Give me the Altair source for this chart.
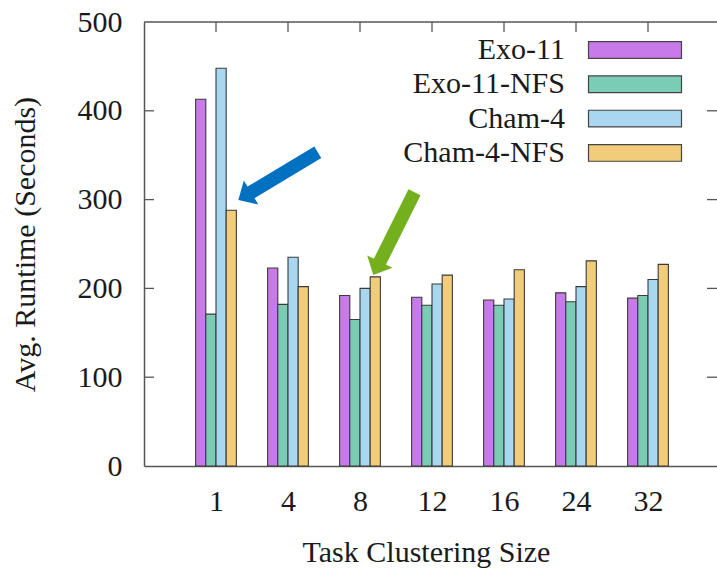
import altair as alt
import pandas as pd

# ---- data ----
sizes = ["1", "4", "8", "12", "16", "24", "32"]
series = ["Exo-11", "Exo-11-NFS", "Cham-4", "Cham-4-NFS"]
colors = ["#c77ae8", "#7bccb4", "#a9d7ef", "#f0cc7b"]
exo11 = [413, 223, 192, 190, 187, 195, 189]
exo11_nfs = [171, 182, 165, 181, 181, 185, 192]
cham4 = [448, 235, 200, 205, 188, 202, 210]
cham4_nfs = [288, 202, 213, 215, 221, 231, 227]
y_ticks = [100, 200, 300, 400]

# arrow annotations (data coordinates: x = category index, y = seconds)
arrow_tail_x = [1.414, 2.757]
arrow_tail_y = [353.4, 308.3]
arrow_neck_x = [0.453, 2.258]
arrow_neck_y = [306.5, 227.1]
arrow_tip_x = [0.310, 2.185]
arrow_tip_y = [299.5, 215.1]
arrow_angle = [239, 206]
arrow_color = ["#0070c0", "#74b01e"]

# ---- layout constants ----
W, H = 573, 444
X_DOMAIN = [-1, -1 + W / 72]
BAR_W = 0.1415
FONT = "Liberation Serif"
FS = 30
AX = "#555555"

vals = [exo11, exo11_nfs, cham4, cham4_nfs]
rows = []
for k, (name, v) in enumerate(zip(series, vals)):
    for i, val in enumerate(v):
        x0 = i + (k - 2) * BAR_W
        rows.append({"series": name, "idx": i, "x0": x0, "x1": x0 + BAR_W, "value": val})
df = pd.DataFrame(rows)

xscale = alt.Scale(domain=X_DOMAIN, nice=False, zero=False)
yscale = alt.Scale(domain=[0, 500], nice=False)

label_expr = "[" + ",".join("'%s'" % s for s in sizes) + "][datum.value]"

bars = alt.Chart(df).mark_bar(stroke="#3a3a3a", strokeWidth=1.1, opacity=1).encode(
    x=alt.X("x0:Q", scale=xscale,
            axis=alt.Axis(values=list(range(len(sizes))), labelExpr=label_expr,
                          title="Task Clustering Size", ticks=False, grid=False,
                          domain=True, domainColor=AX, domainWidth=1.5,
                          labelFont=FONT, labelFontSize=FS, labelColor="#1a1a1a",
                          labelPadding=20, labelBaseline="top",
                          titleFont=FONT, titleFontSize=FS, titleFontWeight="normal",
                          titleColor="#1a1a1a", titleBaseline="alphabetic",
                          titleY=95, titleX=(W - 5) / 2 - 2)),
    x2="x1:Q",
    y=alt.Y("value:Q", scale=yscale,
            axis=alt.Axis(values=[0, 100, 200, 300, 400, 500], ticks=False, grid=False,
                          domain=True, domainColor=AX, domainWidth=1.5,
                          labelFont=FONT, labelFontSize=FS, labelColor="#1a1a1a",
                          labelPadding=22, title="Avg. Runtime (Seconds)",
                          titleFont=FONT, titleFontSize=FS, titleFontWeight="normal",
                          titleColor="#1a1a1a", titleAngle=270, titleAlign="center",
                          titleBaseline="alphabetic", titleX=-110, titleY=H / 2)),
    y2=alt.datum(0),
    color=alt.Color("series:N", sort=series,
                    scale=alt.Scale(domain=series, range=colors),
                    legend=alt.Legend(orient="none", legendX=476, legendY=13,
                                      title=None, direction="vertical",
                                      symbolType="M-3.875,-0.696H3.875V0.696H-3.875Z",
                                      symbolSize=576, symbolStrokeColor="#444444",
                                      symbolStrokeWidth=1.2, symbolOpacity=1,
                                      labelFont=FONT, labelFontSize=FS,
                                      labelColor="#1a1a1a", labelAlign="right",
                                      labelOffset={"expr": "-85"}, labelLimit=400,
                                      rowPadding=4.3, padding=0)),
)

# frame top line
top_line = alt.Chart(pd.DataFrame({"v": [0]})).mark_rule(color=AX, strokeWidth=1.5).encode(
    x=alt.value(0), x2=alt.value(W), y=alt.value(0))

tick_df = pd.DataFrame({"t": y_ticks})
left_ticks = alt.Chart(tick_df).mark_rule(color=AX, strokeWidth=1.3).encode(
    y=alt.Y("t:Q", scale=yscale), x=alt.value(0), x2=alt.value(10))
right_ticks = alt.Chart(tick_df).mark_rule(color=AX, strokeWidth=1.3).encode(
    y=alt.Y("t:Q", scale=yscale), x=alt.value(W - 10), x2=alt.value(W))
top_ticks = alt.Chart(pd.DataFrame({"i": list(range(len(sizes)))})).mark_rule(
    color=AX, strokeWidth=1.3).encode(
    x=alt.X("i:Q", scale=xscale), y=alt.value(0), y2=alt.value(10))

arrows_df = pd.DataFrame({
    "tx": arrow_tail_x, "ty": arrow_tail_y,
    "nx": arrow_neck_x, "ny": arrow_neck_y,
    "px": arrow_tip_x, "py": arrow_tip_y,
    "angle": arrow_angle, "color": arrow_color,
})
shafts = alt.Chart(arrows_df).mark_rule(strokeWidth=13.5, strokeCap="butt").encode(
    x=alt.X("tx:Q", scale=xscale), y=alt.Y("ty:Q", scale=yscale),
    x2="nx:Q", y2="ny:Q",
    color=alt.Color("color:N", scale=None, legend=None))
heads = alt.Chart(arrows_df).mark_point(
    shape="M0,0L1,1.06L-1,1.06Z", filled=True, size=784, opacity=1, strokeWidth=0).encode(
    x=alt.X("px:Q", scale=xscale), y=alt.Y("py:Q", scale=yscale),
    angle=alt.Angle("angle:Q", scale=None),
    color=alt.Color("color:N", scale=None, legend=None))

chart = alt.layer(bars, top_line, left_ticks, right_ticks, top_ticks, shafts, heads).properties(
    width=W, height=H,
    autosize=alt.AutoSizeParams(type="none"),
    padding={"left": 144, "top": 22, "right": 0, "bottom": 104},
    background="white",
).configure_view(stroke=None)

chart.save("out.html", embed_options={"renderer": "svg", "actions": False})
